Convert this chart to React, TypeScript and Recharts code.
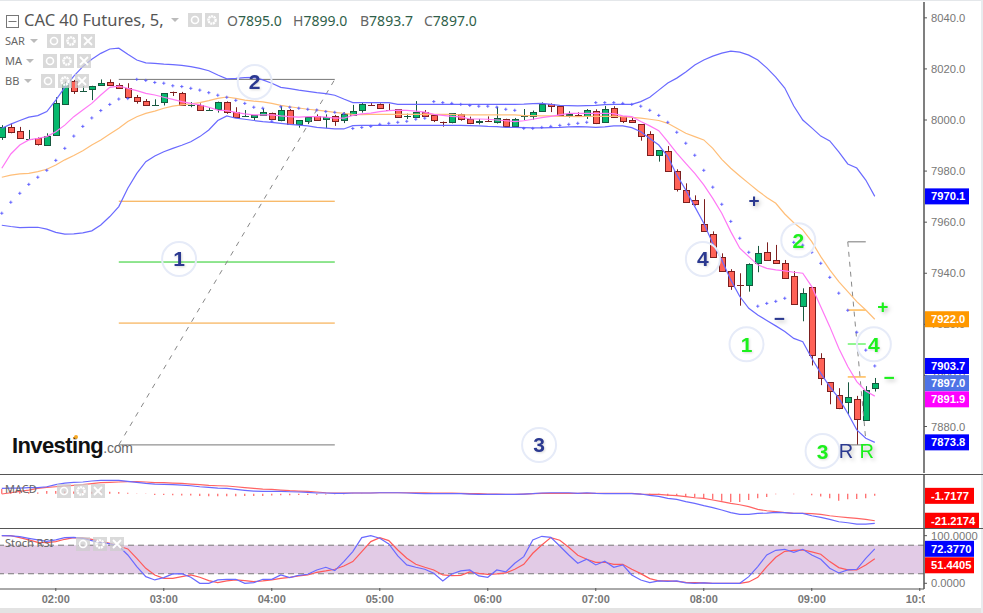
import React from 'react';
import { ComposedChart, Bar, Line, XAxis, YAxis, ReferenceLine, ReferenceDot, ReferenceArea } from 'recharts';

// 5 minute bars, first bar is 01:30
const opens = [
  7993.2, 7997.1, 7995.6, 7992.4, 7992.8, 7990.1, 7994.0, 8006.1, 8015.1, 8011.5,
  8011.9, 8013.6, 8014.7, 8013.8, 8012.4, 8008.9, 8007.3, 8005.7, 8006.9, 8011.1,
  8010.4, 8005.7, 8005.7, 8004.0, 8004.2, 8006.9, 8003.0, 8001.6, 8001.0, 8001.8,
  8002.6, 7999.9, 8003.8, 7998.3, 7999.5, 8001.7, 8000.3, 8001.4, 7999.9, 8001.7,
  8003.8, 8006.0, 8006.1, 8003.9, 8004.2, 8001.4, 8001.0, 8003.0, 8001.8, 7999.4,
  7999.1, 8002.2, 8000.3, 7999.1, 7999.7, 7999.1, 8000.5, 7997.9, 8001.4, 8001.4,
  8003.4, 8006.1, 8005.4, 8001.8, 8001.8, 8001.4, 8003.4, 7999.1, 8004.6, 8001.4,
  7999.9, 7998.3, 7994.4, 7986.2, 7987.7, 7979.9, 7972.5, 7968.6, 7959.2, 7955.3,
  7946.3, 7940.8, 7935.3, 7935.3, 7943.9, 7948.2, 7945.1, 7943.9, 7938.8, 7927.1,
  7934.5, 7906.7, 7897.3, 7892.2, 7889.5, 7890.7, 7882.5, 7895.0,
];
const highs = [
  7998.0, 7998.7, 7997.3, 7996.1, 7993.2, 7994.8, 8008.9, 8015.0, 8015.7, 8013.3,
  8013.4, 8015.9, 8015.9, 8014.4, 8014.4, 8009.8, 8008.2, 8008.1, 8010.4, 8011.1,
  8011.0, 8007.0, 8006.5, 8005.0, 8007.2, 8007.3, 8005.0, 8003.9, 8001.8, 8004.6,
  8002.9, 8005.5, 8004.3, 7999.9, 8001.3, 8002.2, 8002.2, 8002.0, 8003.0, 8005.9,
  8006.7, 8006.7, 8006.5, 8006.4, 8004.3, 8002.5, 8007.4, 8003.9, 8001.8, 7999.4,
  8002.7, 8002.5, 8001.3, 8000.4, 8001.4, 8005.2, 8000.5, 8000.8, 8004.3, 8003.7,
  8006.9, 8006.5, 8005.7, 8003.4, 8003.0, 8004.3, 8004.2, 8005.5, 8005.4, 8001.4,
  8000.9, 7998.3, 7995.6, 7988.1, 7989.8, 7980.7, 7975.2, 7970.5, 7969.0, 7956.4,
  7947.8, 7941.6, 7940.0, 7943.9, 7950.7, 7952.1, 7951.1, 7945.2, 7940.8, 7934.1,
  7934.5, 7908.7, 7897.3, 7895.0, 7897.3, 7892.0, 7895.8, 7899.0,
];
const lows = [
  7992.2, 7994.8, 7992.7, 7992.2, 7990.0, 7990.0, 7994.0, 8006.1, 8010.2, 8011.1,
  8007.8, 8013.6, 8013.3, 8012.8, 8008.4, 8006.4, 8005.5, 8005.5, 8005.7, 8009.4,
  8005.7, 8005.0, 8003.7, 8003.7, 8002.9, 8002.4, 8000.8, 8001.3, 7999.8, 8001.7,
  8000.0, 7999.5, 7998.3, 7997.0, 7998.4, 7999.8, 7996.8, 7997.7, 7998.8, 8001.7,
  8002.9, 8005.6, 8004.4, 8003.7, 8000.9, 8000.4, 8000.7, 8001.2, 7999.2, 7997.4,
  7998.7, 7999.7, 7998.4, 7998.3, 7999.2, 7998.6, 7996.9, 7997.4, 8000.0, 8000.1,
  8003.3, 8003.1, 8001.6, 8001.0, 8001.2, 8000.4, 7998.4, 7999.0, 8000.8, 7998.8,
  7999.0, 7991.9, 7986.2, 7983.7, 7979.9, 7972.0, 7967.8, 7966.5, 7956.4, 7946.3,
  7940.8, 7933.5, 7927.3, 7932.8, 7940.4, 7945.1, 7943.9, 7938.0, 7927.9, 7921.2,
  7903.9, 7896.2, 7888.7, 7886.8, 7884.8, 7872.8, 7882.5, 7893.7,
];
const closes = [
  7997.1, 7995.2, 7992.8, 7992.4, 7990.5, 7993.6, 8006.5, 8014.4, 8011.1, 8011.5,
  8013.2, 8014.4, 8013.6, 8012.8, 8008.9, 8007.2, 8005.7, 8005.7, 8010.4, 8011.0,
  8005.7, 8005.7, 8003.9, 8004.0, 8006.9, 8002.9, 8001.0, 8001.6, 8001.8, 8003.0,
  8000.3, 8003.8, 7998.3, 7999.9, 8001.0, 8000.3, 8001.0, 7999.5, 8002.2, 8003.4,
  8006.1, 8005.9, 8004.6, 8003.8, 8000.9, 8001.4, 8003.0, 8001.4, 7999.9, 7999.3,
  8002.6, 8000.3, 7998.7, 7999.6, 7999.6, 8000.7, 7997.9, 8000.5, 8001.4, 8003.0,
  8006.1, 8005.4, 8001.8, 8002.2, 8001.7, 8003.8, 7998.7, 8004.2, 8001.0, 7999.5,
  7999.1, 7993.6, 7986.2, 7988.1, 7979.9, 7972.9, 7967.8, 7966.9, 7956.4, 7946.3,
  7940.8, 7934.9, 7935.2, 7943.5, 7947.8, 7945.1, 7943.9, 7938.0, 7927.9, 7932.2,
  7907.9, 7898.9, 7893.8, 7887.2, 7891.5, 7882.9, 7894.2, 7897.0,
];
const sar = [
  7963.5, 7967.8, 7971.3, 7974.8, 7977.6, 7980.3, 7984.2, 7988.9, 7993.7, 7997.5,
  8000.8, 8003.7, 8006.1, 8008.2, 8008.4, 8015.9, 8015.5, 8014.7, 8014.4, 8013.4,
  8013.1, 8012.4, 8011.7, 8010.7, 8009.7, 8008.9, 8007.7, 8006.5, 8005.0, 8004.6,
  7999.5, 8005.2, 8005.0, 8004.6, 8004.2, 8003.9, 8003.3, 8003.0, 8002.5, 7996.7,
  7997.1, 7997.5, 7998.3, 7998.7, 7999.1, 7999.5, 8000.3, 8000.7, 8007.2, 8006.8,
  8006.5, 8006.1, 8005.7, 8005.4, 8005.4, 8005.0, 8004.2, 8003.8, 7996.7, 7996.7,
  7997.1, 7997.5, 7997.9, 7998.3, 7998.7, 7999.1, 8006.8, 8006.8, 8006.8, 8006.5,
  8006.1, 8005.4, 8003.8, 8001.8, 7999.1, 7995.2, 7990.9, 7986.2, 7980.3, 7973.7,
  7967.0, 7960.3, 7953.7, 7948.2, 7927.1, 7928.2, 7929.0, 7930.2, 7952.1, 7951.0,
  7948.2, 7943.9, 7938.4, 7932.2, 7925.5, 7916.9, 7909.9, 7903.7,
];
const bbUpper = [
  7996.8, 7998.4, 7999.8, 8001.1, 8001.7, 8003.3, 8007.8, 8012.8, 8017.2, 8020.9,
  8023.8, 8026.1, 8027.8, 8028.1, 8025.7, 8023.5, 8022.4, 8022.2, 8021.9, 8021.7,
  8021.4, 8020.9, 8020.2, 8019.3, 8017.6, 8016.1, 8016.3, 8016.6, 8016.7, 8015.7,
  8014.4, 8012.8, 8012.3, 8011.7, 8011.2, 8010.7, 8010.3, 8009.7, 8008.2, 8006.8,
  8006.8, 8006.8, 8006.8, 8006.8, 8006.1, 8006.1, 8006.1, 8006.1, 8006.1, 8006.1,
  8006.1, 8006.1, 8006.1, 8006.1, 8006.1, 8006.1, 8006.1, 8006.1, 8006.2, 8006.4,
  8006.5, 8006.1, 8005.7, 8005.6, 8005.5, 8005.6, 8005.7, 8006.0, 8006.1, 8006.1,
  8006.1, 8007.2, 8008.9, 8011.7, 8014.5, 8016.4, 8018.8, 8021.5, 8023.5, 8025.0,
  8026.2, 8027.0, 8026.6, 8025.4, 8023.5, 8020.4, 8016.8, 8012.5, 8005.5, 8000.0,
  7996.9, 7993.7, 7991.8, 7987.5, 7982.8, 7981.2, 7976.5, 7970.1,
];
const bbLower = [
  7958.8, 7958.3, 7957.9, 7958.0, 7958.0, 7957.3, 7956.0, 7955.3, 7955.4, 7955.8,
  7956.6, 7958.9, 7962.2, 7966.1, 7973.3, 7979.1, 7983.7, 7985.9, 7987.6, 7988.9,
  7990.1, 7991.5, 7993.5, 7996.1, 7999.8, 8001.6, 8000.7, 8000.3, 7999.8, 7999.4,
  7999.1, 7998.7, 7998.3, 7998.0, 7997.7, 7997.1, 7996.8, 7996.5, 7996.5, 7997.8,
  7997.9, 7997.9, 7997.9, 7997.9, 7997.9, 7997.9, 7997.9, 7997.9, 7997.9, 7997.9,
  7997.9, 7997.9, 7997.8, 7997.7, 7997.5, 7997.4, 7997.1, 7997.1, 7997.0, 7996.9,
  7996.9, 7997.0, 7997.1, 7997.3, 7997.4, 7997.3, 7997.1, 7997.3, 7997.7, 7997.7,
  7997.0, 7995.4, 7992.8, 7990.2, 7985.7, 7978.5, 7972.6, 7966.1, 7959.6, 7951.7,
  7945.2, 7937.4, 7930.9, 7926.3, 7923.7, 7921.5, 7919.4, 7917.2, 7914.5, 7913.2,
  7906.7, 7900.8, 7895.6, 7891.1, 7885.2, 7878.7, 7875.4, 7873.8,
];
const maFast = [
  7981.1, 7986.7, 7990.2, 7992.2, 7992.8, 7993.5, 7995.4, 7998.0, 8001.3, 8003.9,
  8006.5, 8009.8, 8012.8, 8013.3, 8012.4, 8011.5, 8010.4, 8009.8, 8008.9, 8008.1,
  8007.2, 8006.5, 8005.9, 8005.0, 8003.9, 8003.7, 8003.0, 8002.4, 8002.0, 8002.0,
  8002.0, 8001.6, 8001.3, 8001.1, 8001.3, 8001.3, 8001.1, 8000.7, 8000.7, 8001.8,
  8002.4, 8002.7, 8003.3, 8003.7, 8003.9, 8003.8, 8003.5, 8003.1, 8002.2, 8001.8,
  8001.4, 8001.2, 8000.4, 8000.4, 8000.3, 8000.0, 7999.7, 7999.4, 7999.7, 8000.3,
  8000.9, 8001.4, 8002.0, 8002.6, 8002.6, 8002.6, 8002.6, 8002.6, 8002.5, 8001.6,
  8001.3, 7999.4, 7997.7, 7995.8, 7991.5, 7987.0, 7983.0, 7979.1, 7974.6, 7969.3,
  7963.5, 7956.3, 7949.8, 7946.5, 7943.3, 7941.9, 7941.3, 7940.9, 7940.4, 7940.0,
  7934.8, 7926.9, 7919.1, 7910.6, 7903.5, 7897.6, 7893.9, 7891.9,
];
const maSlow = [
  7977.6, 7978.4, 7978.9, 7979.1, 7979.8, 7980.7, 7982.4, 7984.4, 7986.1, 7988.0,
  7990.2, 7992.2, 7994.5, 7996.8, 7999.4, 8001.3, 8002.6, 8003.5, 8004.6, 8005.4,
  8005.9, 8006.3, 8006.8, 8007.6, 8008.5, 8009.0, 8008.5, 8007.8, 8007.4, 8007.1,
  8006.5, 8005.7, 8005.2, 8004.7, 8004.2, 8003.9, 8003.5, 8003.0, 8002.6, 8002.2,
  8002.1, 8002.2, 8002.2, 8002.2, 8002.2, 8002.2, 8002.2, 8002.2, 8002.2, 8002.2,
  8002.2, 8002.0, 8002.0, 8002.0, 8002.0, 8002.0, 8002.0, 8002.0, 8001.7, 8001.7,
  8001.6, 8001.6, 8001.4, 8001.4, 8001.3, 8001.4, 8001.4, 8001.4, 8001.4, 8001.3,
  8001.0, 8000.7, 8000.3, 7999.8, 7998.7, 7996.8, 7994.8, 7993.5, 7992.2, 7988.9,
  7984.6, 7981.1, 7978.1, 7975.2, 7972.3, 7969.7, 7967.4, 7963.2, 7959.8, 7957.0,
  7952.4, 7946.5, 7941.3, 7936.7, 7932.8, 7928.9, 7925.6, 7922.0,
];
const macdLine = [
  4.1, 4.4, 4.4, 4.7, 4.7, 5.4, 7.0, 8.3, 8.8, 9.1,
  9.9, 10.4, 10.4, 10.4, 9.6, 8.8, 8.0, 7.5, 7.3, 7.0,
  6.7, 6.2, 5.4, 4.9, 4.4, 4.1, 3.3, 2.6, 2.0, 1.8,
  1.8, 1.8, 1.5, 1.3, 1.0, 0.5, 0.5, 0.2, 0.2, 0.5,
  0.5, 0.5, 0.7, 0.7, 0.7, 0.5, 0.2, 0, 0, 0,
  0, 0, -0.3, -0.6, -0.6, -0.6, -0.6, -0.6, -0.3, 0,
  0.5, 0.7, 0.7, 0.7, 0.2, 0.7, 0.2, 0, 0, 0,
  0, -0.3, -1.4, -2.1, -3.7, -4.5, -6.3, -7.6, -9.4, -11,
  -12.8, -14.9, -16.2, -16.2, -15.5, -15.2, -14.7, -14.9, -15.5, -15.5,
  -17.3, -18.6, -20.1, -22, -22.8, -23.8, -23.8, -23.3,
];
const macdSignal = [
  -0.3, 0.7, 1.8, 2.8, 4.1, 4.9, 5.4, 6, 6.5, 7,
  7.8, 8.6, 8.8, 9.1, 9.4, 9.4, 9.1, 8.6, 8.6, 8.3,
  8, 7.5, 7, 6.5, 6.2, 6, 5.4, 4.7, 4.1, 3.6,
  3.3, 2.8, 2.3, 2, 1.8, 1.3, 0.7, 0.5, 0.5, 0.5,
  0.5, 0.5, 0.7, 0.7, 0.7, 0.7, 0.7, 0.7, 0.5, 0.5,
  0.5, 0.2, 0, 0, -0.3, -0.3, -0.6, -0.6, -0.3, 0,
  0.2, 0.2, 0.2, 0.2, 0.2, 0.2, 0.2, 0.2, 0.2, 0.2,
  0.2, -0.3, -0.6, -0.6, -1.1, -1.6, -2.4, -3.2, -3.7, -5,
  -6.3, -7.6, -8.7, -10.2, -12.3, -13.4, -14.1, -14.9, -15.5, -15.5,
  -15.7, -16.2, -17.3, -18.1, -18.8, -19.4, -20.1, -21.2,
];
const macdHist = [
  3.6, 2.8, 1.9, 1.3, 0.9, 2, 2, 1.7, 1.6, 1.5,
  1.5, 1.6, 1.4, 1.2, 0.7, 0.1, -0.2, -1, -1, -1.3,
  -1.5, -1.5, -1.8, -2.1, -2.1, -2.1, -2.1, -1.9, -1.9, -1.8,
  -1.5, -1.3, -1.3, -1.1, -1, -0.8, -0.7, -0.5, -0.4, -0.3,
  -0.2, -0.1, 0, 0, 0, 0, 0, 0, 0, 0,
  0, 0, 0, 0, 0, 0, 0, 0, 0, 0,
  0, 0, 0, 0, 0, 0, 0, 0, 0, 0,
  0, -0.2, -1, -1, -1.6, -1.8, -2.3, -3.1, -3.7, -4.4,
  -5.5, -6.5, -6.5, -5, -3.7, -2.6, -0.5, 0, -0.5, 0,
  -1.3, -2.3, -3.7, -5.5, -4.4, -4.2, -3.7, -1.7,
];
const stochK = [
  100, 99.4, 98, 94.5, 91, 88.2, 91, 95.9, 96.6, 94.5,
  89.6, 86.1, 82.6, 78.4, 59.5, 35, 14, 7, 11.9, 19.6,
  20.3, 12.6, 0, 0, 7, 8.4, 8.4, 0, 1.4, 8.4,
  8.4, 17.5, 11.9, 16.8, 18.9, 28, 33.6, 26.6, 45.5, 66.5,
  95.9, 100, 94.5, 82.6, 57.4, 38.5, 33.6, 29.4, 21, 4.9,
  19.6, 25.9, 28, 15.4, 12.6, 28, 23.8, 42, 56, 91,
  98.7, 96.6, 78.4, 59.5, 42, 50.4, 38.5, 46.2, 33.6, 38.5,
  17.5, 7, 1.4, 4.9, 4.2, 4.9, 0.7, 0, 0.7, 0,
  0, 0, 0, 14, 35, 59.5, 69.3, 71.4, 65.1, 71.4,
  59.5, 50.4, 31.5, 21.7, 28, 29.4, 52.5, 72.4,
];
const stochD = [
  100, 100, 95.9, 91, 86.1, 85.4, 87.5, 92.4, 95.9, 95.2,
  92.4, 88.2, 84, 78.4, 72.1, 52.5, 31.5, 17.5, 10.5, 10.5,
  14, 17.5, 12.6, 5.6, 1.4, 4.9, 7, 5.6, 3.5, 4.9,
  7, 10.5, 12.6, 15.4, 17.5, 23.1, 25.9, 29.4, 36.4, 45.5,
  66.5, 87.5, 95.9, 89.6, 70, 52.5, 39.9, 33.6, 28, 17.5,
  16.1, 16.8, 23.8, 21, 18.9, 19.6, 21.7, 29.4, 39.9, 63,
  80.5, 95.9, 90.3, 75.6, 58.8, 50.4, 44.1, 44.1, 39.9, 39.9,
  29.4, 20.3, 9.8, 4.9, 4.9, 4.2, 2.1, 1.4, 0.7, 0,
  0, 0, 0, 2.8, 12.6, 35, 54.6, 67.2, 69.3, 70,
  65.8, 60.9, 45.5, 32.9, 28, 28, 38.5, 51.4,
];

const hourTicks = [6, 18, 30, 42, 54, 66, 78, 90, 102];
const hourLabels = ['02:00', '03:00', '04:00', '05:00', '06:00', '07:00', '08:00', '09:00', '10:00'];
const priceTicks = [8040, 8020, 8000, 7980, 7960, 7940, 7920, 7900, 7880];
const priceTags = [
  { value: 7970.1, color: '#0000ff' },
  { value: 7903.7, color: '#0000ff' },
  { value: 7922.0, color: '#ff9800' },
  { value: 7873.8, color: '#0000ff' },
  { value: 7891.9, color: '#ff00ff', shift: 3.2 },
  { value: 7897.0, color: '#4e73e6' },
];
const macdTags = [
  { value: -1.7177, color: '#ff0000' },
  { value: -21.2174, color: '#ff0000' },
];
const stochTicks = [100, 0];
const stochTags = [
  { value: 51.4405, color: '#ff0000', shift: 6.5 },
  { value: 72.377, color: '#0000ff' },
];

// fibonacci style levels: [first bar, last bar, price, colour]
const fibLevels: [number, number, number, string][] = [
  [13, 37, 8015.9, '#777777'],
  [13, 37, 7968.2, '#f5a033'],
  [13, 37, 7944.4, '#22cc22'],
  [13, 37, 7920.5, '#f5a033'],
  [13, 37, 7872.8, '#777777'],
  [94, 96, 7952.3, '#777777'],
  [94, 96, 7925.6, '#ff9800'],
  [94, 96, 7912.3, '#22ee22'],
  [94, 96, 7899.4, '#ff9800'],
  [94, 96, 7872.8, '#777777'],
];
const NAVY = '#2b3990';
const LIME = '#1cf01c';
const circled: [number, number, string, string][] = [
  [28.1, 8014.9, '2', NAVY],
  [19.7, 7945.6, '1', NAVY],
  [59.7, 7872.8, '3', NAVY],
  [77.9, 7945.6, '4', NAVY],
  [88.5, 7952.9, '2', LIME],
  [82.75, 7912.2, '1', LIME],
  [91.2, 7870.4, '3', LIME],
  [96.9, 7912.2, '4', LIME],
];
const marks: [number, number, string, string][] = [
  [83.6, 7968.7, '+', NAVY],
  [86.4, 7922.6, '\u2212', NAVY],
  [93.8, 7870.4, 'R', NAVY],
  [96.1, 7870.6, 'R', LIME],
  [97.9, 7927.2, '+', LIME],
  [98.6, 7899.5, '\u2212', LIME],
];

const bars = opens.map((open, i) => ({
  i,
  open,
  high: highs[i],
  low: lows[i],
  close: closes[i],
  sar: sar[i],
  bbUpper: bbUpper[i],
  bbLower: bbLower[i],
  maFast: maFast[i],
  maSlow: maSlow[i],
  macdLine: macdLine[i],
  macdSignal: macdSignal[i],
  macdHist: macdHist[i],
  stochK: stochK[i],
  stochD: stochD[i],
}));

const FONT = '"Liberation Sans", Arial, sans-serif';
const UI_FONT = '"Noto Sans", sans-serif';
const X_DOMAIN: [number, number] = [-0.2, 102.47];
const PLOT_W = 983;
const AXIS_W = 59;
const BLUE = '#6a6aff';
const LINE_W = 1.2;

const Candle = (props: any) => {
  const { x, y, width, height, payload } = props;
  const { open, high, low, close } = payload;
  const perUnit = height / (high - low);
  const cx = Math.round(x + width / 2) + 0.5;
  const up = close >= open;
  const top = y + (high - Math.max(open, close)) * perUnit;
  const bottom = y + (high - Math.min(open, close)) * perUnit;
  const edge = up ? '#17583f' : '#7c1f1f';
  const yTop = Math.round(top) + 0.5;
  const h = Math.round(bottom - top);
  return (
    <g>
      <line x1={cx} x2={cx} y1={y} y2={y + height} stroke={edge} />
      {h < 1 ? (
        <line x1={cx - 3.5} x2={cx + 3.5} y1={yTop} y2={yTop} stroke={edge} />
      ) : (
        <rect x={cx - 3} y={yTop} width={6} height={h} fill={up ? '#05b96d' : '#ff6257'} stroke={edge} />
      )}
    </g>
  );
};

const SarDot = (props: any) => {
  const { cx, cy, index } = props;
  return (
    <path
      key={index}
      d={`M${cx - 1.6} ${cy}H${cx + 1.6}M${cx} ${cy - 1.6}V${cy + 1.6}`}
      stroke="#5a5aff"
      strokeWidth={0.9}
      fill="none"
    />
  );
};

const axisTick = (tags: any[], decimals: number) => (props: any) => {
  const { x, y, payload } = props;
  const tag = tags.find((t) => t.value === payload.value);
  const text = payload.value.toFixed(decimals);
  if (tag) {
    const yy = y + (tag.shift || 0);
    return (
      <g>
        <rect x={x + 1} y={yy - 8} width={text.length * 5 + 14} height={16} fill={tag.color} />
        <text x={x + 7} y={yy + 4} fontFamily={FONT} fontSize={11.2} fontWeight={700} fill="#fff">
          {text}
        </text>
      </g>
    );
  }
  return (
    <g>
      <line x1={x} x2={x + 3} y1={y} y2={y} stroke="#555" />
      <text x={x + 7} y={y + 4} fontFamily={FONT} fontSize={11.2} fill="#777">
        {text}
      </text>
    </g>
  );
};

const timeTick = (props: any) => {
  const { x, y, payload } = props;
  const label = hourLabels[hourTicks.indexOf(payload.value)];
  return (
    <g>
      <line x1={x} x2={x} y1={y - 1} y2={y + 2} stroke="#555" />
      <text x={x} y={y + 14} textAnchor="middle" fontFamily={FONT} fontSize={11} fontWeight={700} fill="#777">
        {label}
      </text>
    </g>
  );
};

const ringShape = (label: string, color: string) => (props: any) => (
  <g>
    <circle cx={props.cx} cy={props.cy} r={17} fill="none" stroke="#e6ebf8" strokeWidth={2} />
    <text
      x={props.cx}
      y={props.cy + 7.5}
      textAnchor="middle"
      fontFamily={FONT}
      fontSize={21}
      fontWeight={700}
      fill={color}
      style={{ filter: 'drop-shadow(1px 1px 1px rgba(0,0,0,.15))' }}
    >
      {label}
    </text>
  </g>
);

const markShape = (label: string, color: string) => (props: any) => (
  <text
    x={props.cx}
    y={props.cy + 7}
    textAnchor="middle"
    fontFamily={FONT}
    fontSize={label === 'R' ? 20 : 19}
    fontWeight={label === 'R' ? 400 : 700}
    fill={color}
    style={{ filter: 'drop-shadow(2px 2px 2px rgba(0,0,0,.25))' }}
  >
    {label}
  </text>
);

const Pos = ({ x, y, w, h, style, children }: any) => (
  <div style={{ position: 'absolute', left: x, top: y, width: w, height: h, ...style }}>{children}</div>
);

const IconBox = ({ x, y, kind }: { x: number; y: number; kind: string }) => (
  <svg style={{ position: 'absolute', left: x, top: y }} width={14} height={14}>
    <rect width={14} height={14} fill="rgba(205,205,205,.75)" />
    {kind === 'eye' && <circle cx={7} cy={7} r={3.5} fill="none" stroke="#fff" strokeWidth={1.6} />}
    {kind === 'gear' && <circle cx={7} cy={7} r={3.6} fill="none" stroke="#fff" strokeWidth={2.4} strokeDasharray="2 0.6" />}
    {kind === 'x' && <path d="M3 3L11 11M11 3L3 11" stroke="#fff" strokeWidth={1.8} />}
  </svg>
);

const Legend = ({ name, y, x, boxes, boxY }: any) => (
  <>
    <span
      style={{
        position: 'absolute', left: x, top: y - 9, fontFamily: UI_FONT, fontSize: 11,
        lineHeight: '18px', color: '#666', whiteSpace: 'nowrap',
      }}
    >
      {name}
    </span>
    {boxes.map((bx: number, k: number) => (
      <IconBox key={k} x={bx} y={boxY} kind={['eye', 'gear', 'x'][k]} />
    ))}
  </>
);

const Caret = ({ x, y }: { x: number; y: number }) => (
  <svg style={{ position: 'absolute', left: x, top: y }} width={9} height={5}>
    <path d="M0 0H8L4 4Z" fill="#bbb" />
  </svg>
);

const Quote = ({ x, letter, value }: { x: number; letter: string; value: string }) => (
  <span style={{ position: 'absolute', left: x, top: 11, fontFamily: UI_FONT, fontSize: 14, lineHeight: '19px', whiteSpace: 'nowrap' }}>
    <span style={{ color: '#666' }}>{letter}</span>
    <span style={{ color: '#2f5f4a' }}>{value}</span>
  </span>
);

export default function App() {
  return (
    <div style={{ position: 'absolute', left: 0, top: 0, width: 983, height: 613, background: '#fff', overflow: 'hidden' }}>
      <Pos x={0} y={0} w={983} h={1} style={{ background: '#e4e7ea' }} />
      <Pos x={981} y={0} w={2} h={613} style={{ background: '#e8ebee' }} />

      <Pos x={0} y={0} w={PLOT_W} h={474}>
        <ComposedChart width={PLOT_W} height={474} data={bars} margin={{ top: 2, right: 0, bottom: 1, left: 0 }}>
          <XAxis dataKey="i" type="number" domain={X_DOMAIN} hide allowDataOverflow />
          <YAxis
            orientation="right"
            width={AXIS_W}
            domain={[7861.8, 8046.2]}
            allowDataOverflow
            ticks={[...priceTicks, ...priceTags.map((t) => t.value)]}
            interval={0}
            tick={axisTick(priceTags, 1)}
            tickLine={false}
            tickSize={0}
            tickMargin={0}
            axisLine={{ stroke: '#555', strokeWidth: 1.5 }}
          />
          {fibLevels.map(([a, b, price, color], k) => (
            <ReferenceLine key={k} segment={[{ x: a, y: price }, { x: b, y: price }]} stroke={color} strokeWidth={1} ifOverflow="visible" />
          ))}
          <ReferenceLine segment={[{ x: 13, y: 7872.8 }, { x: 37, y: 8015.9 }]} stroke="#888" strokeDasharray="5 6" />
          <ReferenceLine segment={[{ x: 94, y: 7952.3 }, { x: 96, y: 7874.7 }]} stroke="#888" strokeDasharray="5 5" />

          <Line dataKey="bbUpper" stroke={BLUE} dot={false} isAnimationActive={false} strokeWidth={LINE_W} />
          <Line dataKey="bbLower" stroke={BLUE} dot={false} isAnimationActive={false} strokeWidth={LINE_W} />
          <Line dataKey="maSlow" stroke="#ffbe78" dot={false} isAnimationActive={false} strokeWidth={LINE_W} />
          <Line dataKey="maFast" stroke="#ff78f5" dot={false} isAnimationActive={false} strokeWidth={LINE_W} />
          <Bar dataKey={(d: any) => [d.low, d.high]} barSize={7} shape={Candle} isAnimationActive={false} />
          <Line dataKey="sar" stroke="none" dot={SarDot} isAnimationActive={false} />

          {circled.map(([i, price, label, color], k) => (
            <ReferenceDot key={k} x={i} y={price} r={17} ifOverflow="visible" shape={ringShape(label, color)} />
          ))}
          {marks.map(([i, price, label, color], k) => (
            <ReferenceDot key={k} x={i} y={price} r={1} ifOverflow="visible" shape={markShape(label, color)} />
          ))}
        </ComposedChart>
      </Pos>

      <Pos x={0} y={474} w={PLOT_W} h={1} style={{ background: '#555' }} />
      <Pos x={0} y={475} w={PLOT_W} h={53}>
        <ComposedChart width={PLOT_W} height={53} data={bars} margin={{ top: 0, right: 0, bottom: 0, left: 0 }}>
          <XAxis dataKey="i" type="number" domain={X_DOMAIN} hide allowDataOverflow />
          <YAxis
            orientation="right"
            width={AXIS_W}
            domain={[-26.9, 14.6]}
            allowDataOverflow
            ticks={macdTags.map((t) => t.value)}
            interval={0}
            tick={axisTick(macdTags, 4)}
            tickLine={false}
            tickSize={0}
            tickMargin={0}
            axisLine={{ stroke: '#555', strokeWidth: 1.5 }}
          />
          <Bar dataKey="macdHist" barSize={1} fill="#ff4040" isAnimationActive={false} />
          <Line dataKey="macdSignal" stroke="#ff6464" dot={false} isAnimationActive={false} strokeWidth={LINE_W} />
          <Line dataKey="macdLine" stroke={BLUE} dot={false} isAnimationActive={false} strokeWidth={LINE_W} />
        </ComposedChart>
      </Pos>

      <Pos x={0} y={528} w={PLOT_W} h={1} style={{ background: '#555' }} />
      <Pos x={0} y={529} w={PLOT_W} h={80}>
        <ComposedChart width={PLOT_W} height={80} data={bars} margin={{ top: 0, right: 0, bottom: 0, left: 0 }}>
          <XAxis
            dataKey="i"
            type="number"
            domain={X_DOMAIN}
            allowDataOverflow
            ticks={hourTicks}
            interval={0}
            height={20}
            tick={timeTick}
            tickLine={false}
            tickSize={0}
            tickMargin={0}
            axisLine={{ stroke: '#555' }}
          />
          <YAxis
            orientation="right"
            width={AXIS_W}
            domain={[-12, 114]}
            allowDataOverflow
            ticks={[...stochTicks, ...stochTags.map((t) => t.value)]}
            interval={0}
            tick={axisTick(stochTags, 4)}
            tickLine={false}
            tickSize={0}
            tickMargin={0}
            axisLine={{ stroke: '#555', strokeWidth: 1.5 }}
          />
          <ReferenceArea y1={20} y2={80} fill="#d8bade" fillOpacity={0.75} stroke="none" />
          <ReferenceLine y={80} stroke="#777" strokeDasharray="6 4" />
          <ReferenceLine y={20} stroke="#777" strokeDasharray="6 4" />
          <Line dataKey="stochD" stroke="#ff5a5a" dot={false} isAnimationActive={false} strokeWidth={LINE_W} />
          <Line dataKey="stochK" stroke={BLUE} dot={false} isAnimationActive={false} strokeWidth={LINE_W} />
        </ComposedChart>
      </Pos>

      <Pos x={925} y={590} w={56} h={18} style={{ background: '#fff' }} />
      <Pos x={0} y={608} w={981} h={5} style={{ background: '#e3e3e3' }} />

      {/* chart header and indicator legends */}
      <svg style={{ position: 'absolute', left: 6, top: 15 }} width={13} height={13}>
        <rect x={0.5} y={0.5} width={12} height={12} fill="none" stroke="#777" />
        <path d="M2.5 6.5H10.5" stroke="#777" />
      </svg>
      <span style={{ position: 'absolute', left: 24, top: 9, fontFamily: UI_FONT, fontSize: 16.5, lineHeight: '22px', color: '#555', whiteSpace: 'nowrap' }}>
        CAC 40 Futures, 5,
      </span>
      <Caret x={171} y={18} />
      <IconBox x={188} y={13} kind="eye" />
      <IconBox x={205} y={13} kind="gear" />
      <Quote x={227} letter="O" value="7895.0" />
      <Quote x={293} letter="H" value="7899.0" />
      <Quote x={360} letter="B" value="7893.7" />
      <Quote x={424} letter="C" value="7897.0" />

      <Legend name="SAR" x={5} y={41} boxes={[47, 64, 81]} boxY={34} />
      <Caret x={30} y={39} />
      <Legend name="MA" x={5} y={61} boxes={[43, 60, 77]} boxY={54} />
      <Caret x={26} y={59} />
      <Legend name="BB" x={5} y={81} boxes={[41, 58, 75]} boxY={74} />
      <Caret x={24} y={79} />
      <Legend name="MACD" x={5} y={489} boxes={[57, 74, 91]} boxY={484} />
      <Legend name="Stoch RSI" x={5} y={543} boxes={[76, 93, 110]} boxY={537} />

      <span style={{ position: 'absolute', left: 12, top: 431, fontFamily: FONT, fontSize: 22, lineHeight: '30px', fontWeight: 700, color: '#111', letterSpacing: -0.6, whiteSpace: 'nowrap' }}>
        Investing
        <span style={{ fontSize: 14, fontWeight: 400, color: '#666', letterSpacing: -0.2 }}>.com</span>
      </span>
      <Pos x={74} y={435} w={4} h={4} style={{ background: '#f7a823', borderRadius: 2 }} />
    </div>
  );
}
